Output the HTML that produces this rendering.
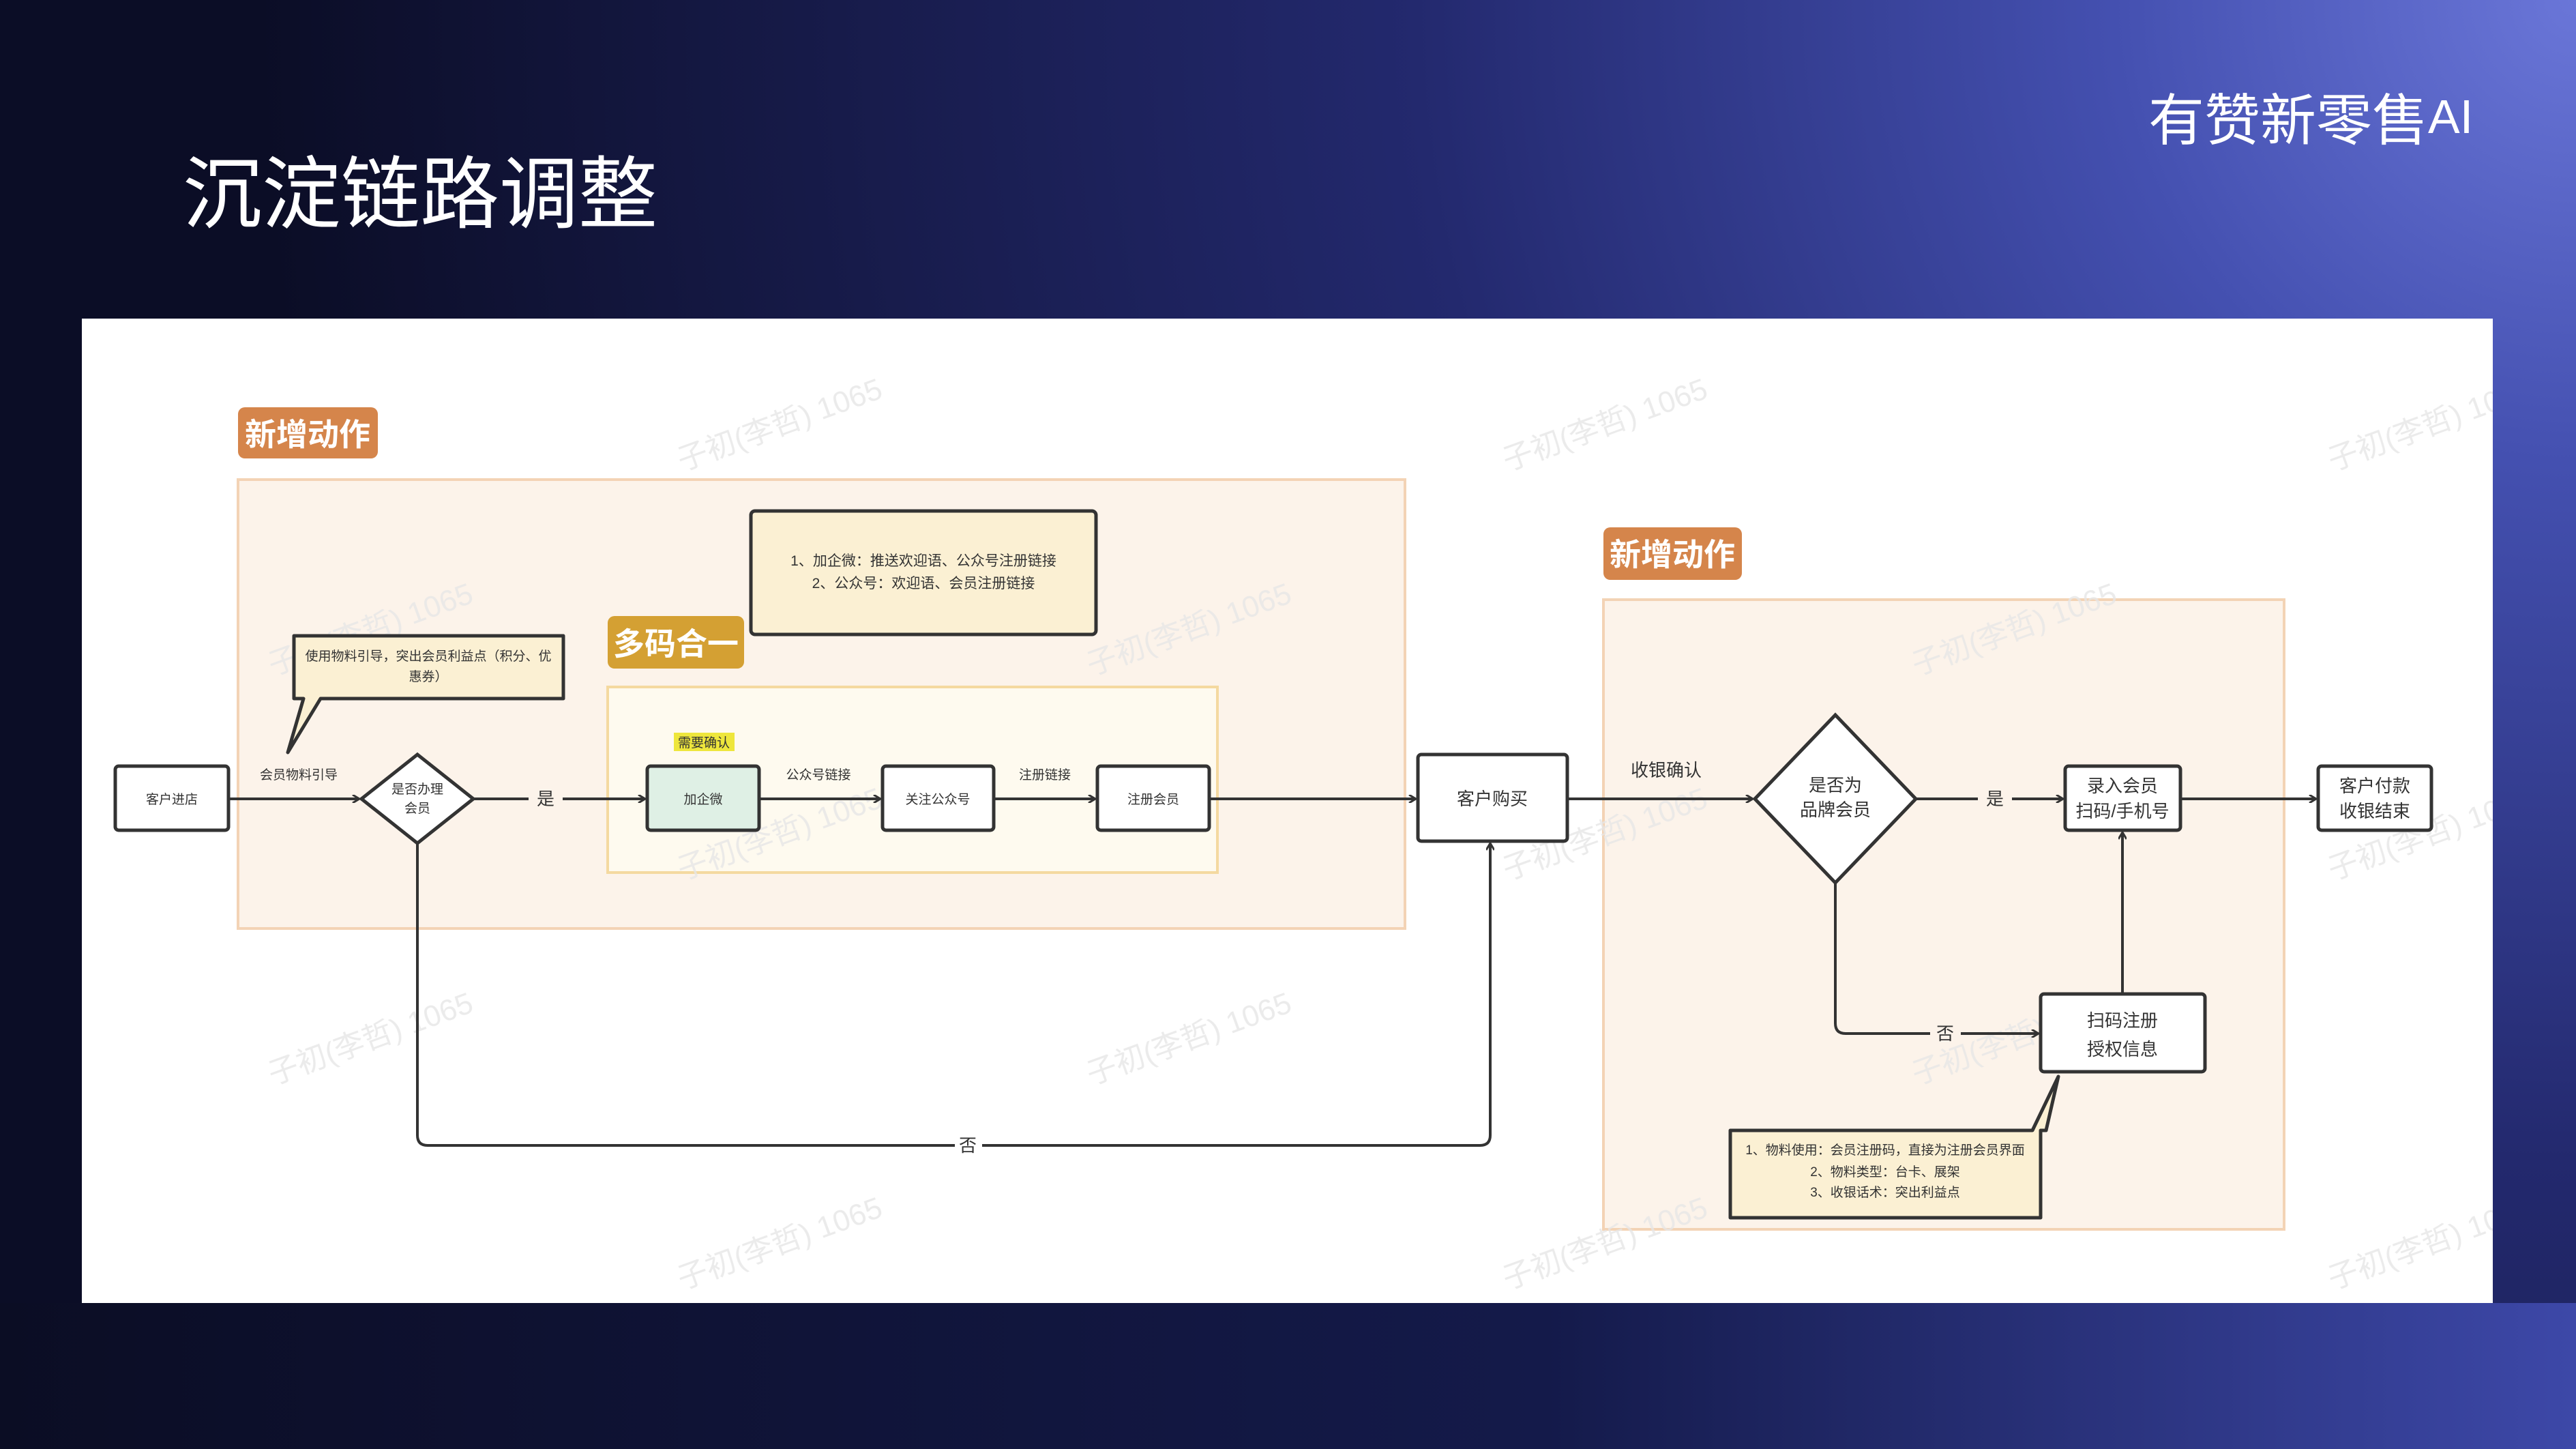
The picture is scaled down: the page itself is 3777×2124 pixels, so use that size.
<!DOCTYPE html>
<html><head><meta charset="utf-8"><style>
html,body{margin:0;padding:0;width:3777px;height:2124px;overflow:hidden;}
body{background:#0e1234;}
svg{display:block;}
text{font-family:"Liberation Sans","Noto Sans CJK SC",sans-serif;}
</style></head><body>
<svg width="3777" height="2124" viewBox="0 0 3777 2124" xmlns="http://www.w3.org/2000/svg">
<defs>
<radialGradient id="bg" cx="3777" cy="0" r="3400" gradientUnits="userSpaceOnUse">
<stop offset="0" stop-color="#6a76d8"/>
<stop offset="0.2" stop-color="#4450b0"/>
<stop offset="0.5" stop-color="#23296e"/>
<stop offset="1" stop-color="#0b0d26"/>
</radialGradient>
<linearGradient id="bot" x1="0" y1="0" x2="1" y2="0">
<stop offset="0" stop-color="#0b0d24"/><stop offset="0.6" stop-color="#141a4a"/><stop offset="1" stop-color="#3d48a8"/>
</linearGradient>
<clipPath id="panel"><rect x="120" y="467" width="3535" height="1443"/></clipPath>
<marker id="ar" markerWidth="12" markerHeight="12" refX="10" refY="6" orient="auto" markerUnits="userSpaceOnUse"><path d="M1,0 L11,6 L1,12" fill="none" stroke="#333" stroke-width="3"/></marker>
</defs>
<rect width="3777" height="2124" fill="url(#bg)"/>
<rect x="0" y="1910" width="3777" height="214" fill="url(#bot)"/>
<text x="268" y="325" font-size="116" fill="#fff">沉淀链路调整</text>
<text x="3150" y="205" font-size="82" fill="#fff">有赞新零售</text>
<text x="3560" y="195" font-size="70" fill="#fff">AI</text>
<rect x="120" y="467" width="3535" height="1443" fill="#fff"/>

<!-- regions -->
<rect x="349" y="703" width="1711" height="658" fill="#fcf3ea" stroke="#f3d3b5" stroke-width="4"/>
<rect x="2351" y="879" width="998" height="923" fill="#fcf3ea" stroke="#f3d3b5" stroke-width="4"/>
<rect x="891" y="1007" width="894" height="272" fill="#fefaef" stroke="#f4d9a0" stroke-width="4"/>

<!-- watermarks -->
<g font-size="44" fill="#e6e6e6" clip-path="url(#panel)" opacity="0.8">
<text transform="translate(1000,690) rotate(-20)">子初(李哲) 1065</text>
<text transform="translate(2210,690) rotate(-20)">子初(李哲) 1065</text>
<text transform="translate(3420,690) rotate(-20)">子初(李哲) 1065</text>
<text transform="translate(400,990) rotate(-20)">子初(李哲) 1065</text>
<text transform="translate(1600,990) rotate(-20)">子初(李哲) 1065</text>
<text transform="translate(2810,990) rotate(-20)">子初(李哲) 1065</text>
<text transform="translate(1000,1290) rotate(-20)">子初(李哲) 1065</text>
<text transform="translate(2210,1290) rotate(-20)">子初(李哲) 1065</text>
<text transform="translate(3420,1290) rotate(-20)">子初(李哲) 1065</text>
<text transform="translate(400,1590) rotate(-20)">子初(李哲) 1065</text>
<text transform="translate(1600,1590) rotate(-20)">子初(李哲) 1065</text>
<text transform="translate(2810,1590) rotate(-20)">子初(李哲) 1065</text>
<text transform="translate(1000,1890) rotate(-20)">子初(李哲) 1065</text>
<text transform="translate(2210,1890) rotate(-20)">子初(李哲) 1065</text>
<text transform="translate(3420,1890) rotate(-20)">子初(李哲) 1065</text>
</g>

<rect x="349" y="597" width="205" height="75" rx="10" fill="#d5854b"/>
<text x="451" y="653" font-size="46" fill="#fff" text-anchor="middle" font-weight="bold">新增动作</text>
<rect x="2351" y="773" width="203" height="77" rx="10" fill="#d5854b"/>
<text x="2452" y="829" font-size="46" fill="#fff" text-anchor="middle" font-weight="bold">新增动作</text>
<rect x="1101" y="749" width="506" height="181" rx="6" fill="#fbf0d3" stroke="#333" stroke-width="5"/>
<text x="1354" y="829" font-size="21" fill="#333" text-anchor="middle">1、加企微：推送欢迎语、公众号注册链接</text>
<text x="1354" y="862" font-size="21" fill="#333" text-anchor="middle">2、公众号：欢迎语、会员注册链接</text>
<rect x="891" y="903" width="200" height="77" rx="10" fill="#d4a033"/>
<text x="991" y="960" font-size="46" fill="#fff" text-anchor="middle" font-weight="bold">多码合一</text>
<path d="M431,932 H826 V1024 H470 L422,1103 L445,1024 H431 Z" fill="#fbf0d3" stroke="#333" stroke-width="5" stroke-linejoin="round"/>
<text x="628" y="968" font-size="19" fill="#333" text-anchor="middle">使用物料引导，突出会员利益点（积分、优</text>
<text x="628" y="998" font-size="19" fill="#333" text-anchor="middle">惠券）</text>

<!-- connectors -->
<g stroke="#333" stroke-width="4" fill="none" marker-end="url(#ar)">
<path d="M335,1171 H526"/>
<path d="M694,1171 H775 M825,1171 H945"/>
<path d="M1113,1171 H1290"/>
<path d="M1457,1171 H1605"/>
<path d="M1773,1171 H2075"/>
<path d="M612,1236 V1664 Q612,1679 627,1679 H1400 M1440,1679 H2170 Q2185,1679 2185,1664 V1237"/>
<path d="M2298,1171 H2569"/>
<path d="M2809,1171 H2900 M2950,1171 H3024"/>
<path d="M3197,1171 H3395"/>
<path d="M2691,1294 V1500 Q2691,1515 2706,1515 H2830 M2875,1515 H2988"/>
<path d="M3112,1457 V1221"/>
</g>

<g stroke="#333" stroke-width="5" fill="#fff">
<rect x="169" y="1123" width="166" height="94" rx="5"/>
<path d="M612,1106 L694,1171 L612,1236 L530,1171 Z"/>
<rect x="949" y="1123" width="164" height="94" rx="5" fill="#dff0e5"/>
<rect x="1294" y="1123" width="163" height="94" rx="5"/>
<rect x="1609" y="1123" width="164" height="94" rx="5"/>
<rect x="2079" y="1106" width="219" height="127" rx="5"/>
<path d="M2691,1048 L2809,1171 L2691,1294 L2573,1171 Z"/>
<rect x="3028" y="1123" width="169" height="94" rx="5"/>
<rect x="3399" y="1123" width="166" height="94" rx="5"/>
<rect x="2992" y="1457" width="241" height="114" rx="5"/>
</g>
<g font-size="19" fill="#333" text-anchor="middle">
<text x="252" y="1178">客户进店</text>
<text x="612" y="1163">是否办理</text>
<text x="612" y="1191">会员</text>
<text x="1031" y="1178">加企微</text>
<text x="1375" y="1178">关注公众号</text>
<text x="1691" y="1178">注册会员</text>
<text x="438" y="1142">会员物料引导</text>
<text x="1200" y="1142">公众号链接</text>
<text x="1532" y="1142">注册链接</text>
</g>
<rect x="988" y="1074" width="89" height="27" fill="#eee63c"/>
<text x="1032" y="1095" font-size="19" fill="#333" text-anchor="middle">需要确认</text>

<path d="M2537,1657 H2980 L3018,1578 L3000,1657 H2992 V1785 H2537 Z" fill="#fbf0d3" stroke="#333" stroke-width="5" stroke-linejoin="round"/>
<g font-size="19" fill="#333" text-anchor="middle">
<text x="2764" y="1692">1、物料使用：会员注册码，直接为注册会员界面</text>
<text x="2764" y="1724">2、物料类型：台卡、展架</text>
<text x="2764" y="1754">3、收银话术：突出利益点</text>
</g>
<g font-size="26" fill="#333" text-anchor="middle">
<text x="800" y="1180">是</text>
<text x="1419" y="1688">否</text>
<text x="2188" y="1180">客户购买</text>
<text x="2443" y="1138">收银确认</text>
<text x="2691" y="1160">是否为</text>
<text x="2691" y="1196">品牌会员</text>
<text x="2925" y="1180">是</text>
<text x="2852" y="1524">否</text>
<text x="3112" y="1161">录入会员</text>
<text x="3112" y="1198">扫码/手机号</text>
<text x="3482" y="1161">客户付款</text>
<text x="3482" y="1198">收银结束</text>
<text x="3112" y="1505">扫码注册</text>
<text x="3112" y="1547">授权信息</text>
</g>
</svg>
</body></html>
